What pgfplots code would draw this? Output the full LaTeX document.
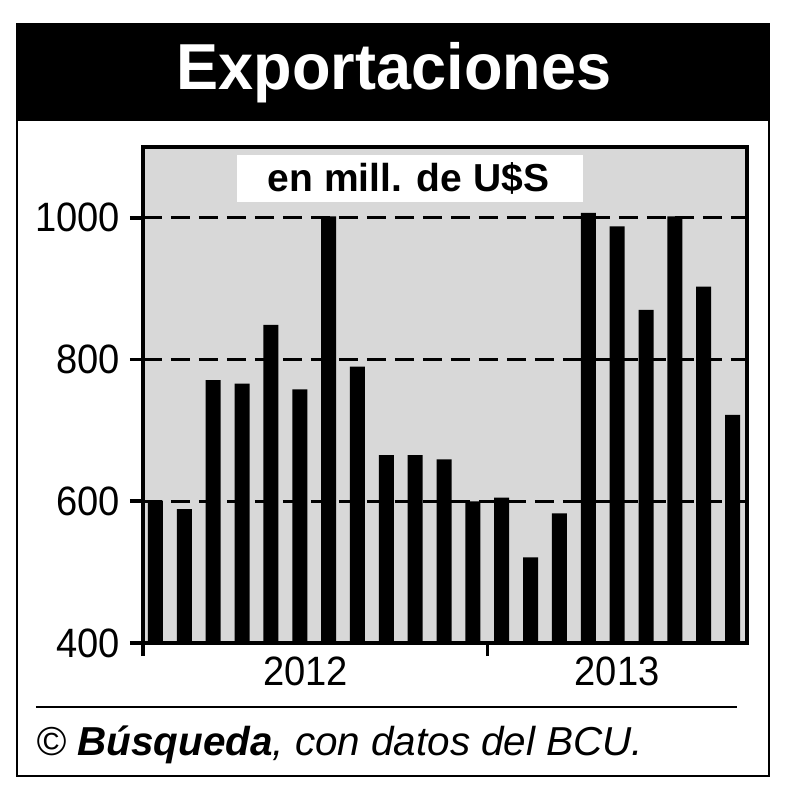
\documentclass[border=0pt]{standalone}
\usepackage{fontspec}
\setmainfont{Liberation Sans}
\newfontfamily\narrowfont[FakeStretch=0.93]{Liberation Sans}
\newfontfamily\titlefont[FakeStretch=0.97]{Liberation Sans}
\usepackage{pgfplots}
\usepackage{pgfplotstable}
\pgfplotsset{compat=1.18}
\definecolor{plotgray}{RGB}{216,216,216}

% monthly exports, million US$ (Jan 2012 - Sep 2013)
\pgfplotstableread{
idx val
1 601
2 589
3 771
4 766
5 849
6 758
7 1002
8 790
9 665
10 665
11 659
12 600
13 605
14 521
15 583
16 1007
17 988
18 870
19 1002
20 903
21 722
}\exports

\begin{document}
\begin{tikzpicture}
% frame, title band and footer (pixel grid of the reference)
\begin{scope}[x=0.5pt,y=-0.5pt,shift={(-143,-643)}]
  \path (0,0) rectangle (790,800);
  \fill[black] (17.5,24) rectangle (769,121);
  \draw[line width=1pt] (17.5,24) rectangle (769,776);
  \node[white, anchor=base, inner sep=0pt,
        font=\titlefont\bfseries\fontsize{32.5}{32.5}\selectfont] at (394,90) {Exportaciones};
  \draw[line width=0.8pt] (36,707) -- (737,707);
  \node[anchor=base west, inner sep=0pt,
        font=\fontsize{20.2}{20.2}\selectfont\itshape] at (36,755)
        {© \textbf{Búsqueda}, con datos del BCU.};
\end{scope}

\begin{axis}[
  at={(0,0)}, anchor=south west,
  scale only axis, width=302pt, height=248pt,
  xmin=0.567, xmax=21.5, ymin=400, ymax=1100,
  axis background/.style={fill=plotgray},
  axis line style={line width=1.6pt},
  ytick={400,600,800,1000},
  ymajorgrids,
  grid style={black, line width=1.5pt, dash pattern=on 9.5pt off 4.5pt},
  tick pos=left,
  tick align=outside, major tick length=6.5pt,
  tick style={black, line width=1.8pt},
  xtick={0.567,12.5}, xticklabels={},
  extra x ticks={6.2,17}, extra x tick labels={2012,2013},
  extra x tick style={tick style={draw=none}, grid=none},
  /pgf/number format/assume math mode=true,
  /pgf/number format/1000 sep={},
  ticklabel style={font=\narrowfont\fontsize{20.5}{20.5}\selectfont},
  yticklabel style={xshift=-1.5pt},
  xticklabel style={yshift=3pt},
  ybar, bar width=7.5pt,
]
\addplot[fill=black, draw=none] table[x=idx, y=val] {\exports};
\end{axis}

\begin{scope}[x=0.5pt,y=-0.5pt,shift={(-143,-643)}]
  \fill[white] (237,155) rectangle (583,202);
  \node[anchor=base, inner sep=0pt,
        font=\bfseries\fontsize{19.5}{19.5}\selectfont] at (408.5,191.7) {en mill. de U\$S};
\end{scope}
\end{tikzpicture}
\end{document}
